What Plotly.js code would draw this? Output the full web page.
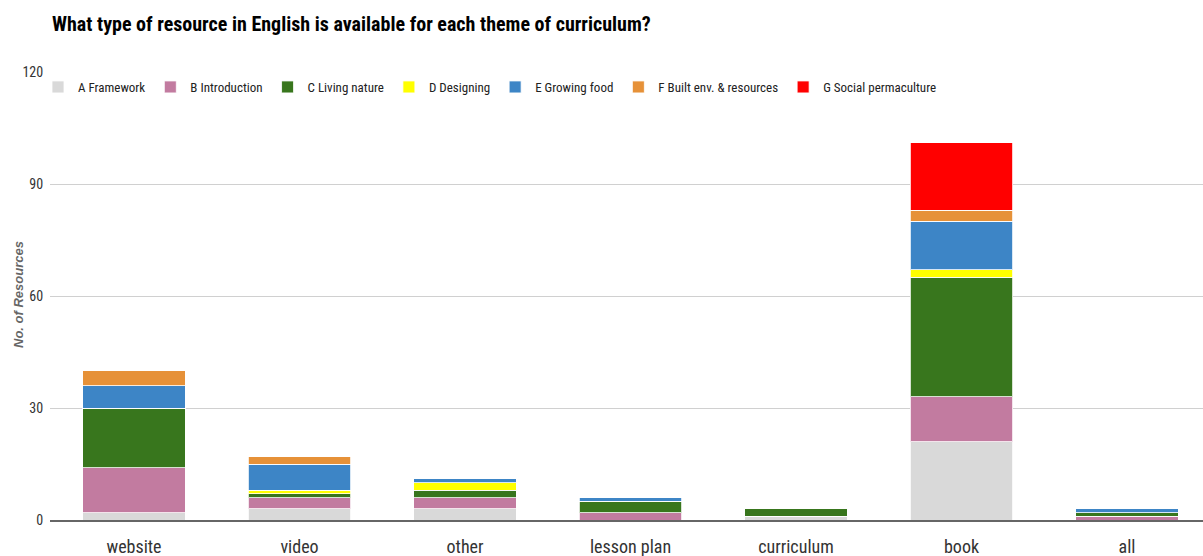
<!DOCTYPE html>
<html>
<head>
<meta charset="utf-8">
<script src="https://cdn.plot.ly/plotly-3.0.1.min.js"></script>
<style>html,body{margin:0;padding:0;background:#fff;}#chart{width:1203px;height:556px;}</style>
</head>
<body>
<div id="chart"></div>
<script>
const categories = ["website", "video", "other", "lesson plan", "curriculum", "book", "all"];
const seriesNames = ["A Framework", "B Introduction", "C Living nature", "D Designing", "E Growing food", "F Built env. & resources", "G Social permaculture"];
const seriesColors = ["#d9d9d9", "#c27ba0", "#38761d", "#ffff00", "#3d85c6", "#e69138", "#ff0000"];
const aFramework   = [2, 3, 3, 0, 1, 21, 0];
const bIntro       = [12, 3, 3, 2, 0, 12, 1];
const cLiving      = [16, 1, 2, 3, 2, 32, 1];
const dDesigning   = [0, 1, 2, 0, 0, 2, 0];
const eGrowing     = [6, 7, 1, 1, 0, 13, 1];
const fBuilt       = [4, 2, 0, 0, 0, 3, 0];
const gSocial      = [0, 0, 0, 0, 0, 18, 0];
const yTicks = [0, 30, 60, 90, 120];

const seriesValues = [aFramework, bIntro, cLiving, dDesigning, eGrowing, fBuilt, gSocial];
const FONT = "'Liberation Sans Narrow', 'Arial Narrow', 'Roboto Condensed', Arial, sans-serif";

const traces = seriesValues.map((vals, i) => ({
  type: "bar",
  name: seriesNames[i],
  x: categories,
  y: vals,
  marker: {color: seriesColors[i], line: {color: "rgba(255,255,255,0.8)", width: 1}},
  hoverinfo: "x+y+name"
}));

const L = 50;
const PW = 1203 - L;
const layout = {
  width: 1203, height: 556,
  barmode: "stack",
  bargap: 0.38,
  paper_bgcolor: "#fff", plot_bgcolor: "#fff",
  margin: {l: L, r: 0, t: 72, b: 36, autoexpand: false},
  font: {family: FONT, color: "#222"},
  title: {
    text: "<b>What type of resource in English is available for each theme of curriculum?</b>",
    font: {family: FONT, size: 20, color: "#000"},
    xref: "container", yref: "container",
    x: 52/1203, xanchor: "left",
    y: 1 - 24/556, yanchor: "middle"
  },
  showlegend: true,
  legend: {
    orientation: "h",
    xref: "container", yref: "paper",
    x: 38/1203, xanchor: "left",
    y: 1 - 15/448, yanchor: "middle",
    font: {family: FONT, size: 13, color: "#222"},
    traceorder: "normal",
    bgcolor: "rgba(0,0,0,0)"
  },
  xaxis: {
    type: "category",
    range: [-(134 - L) / 165.5, -(134 - L) / 165.5 + PW / 165.5],
    showgrid: false,
    showline: true, linecolor: "#666", linewidth: 2,
    ticks: "outside", ticklen: 9, tickcolor: "rgba(0,0,0,0)",
    tickfont: {family: FONT, size: 18, color: "#333"},
    fixedrange: true
  },
  yaxis: {
    range: [0, 120],
    tickvals: yTicks,
    ticktext: yTicks.map(String),
    showgrid: true, gridcolor: "#d0d0d0", gridwidth: 1,
    zeroline: false,
    showline: false,
    ticks: "outside", ticklen: 3, tickcolor: "rgba(0,0,0,0)",
    tickfont: {family: FONT, size: 14, color: "#333"},
    fixedrange: true
  },
  annotations: [{
    text: "<b><i>No. of Resources</i></b>",
    xref: "paper", yref: "paper",
    x: (18 - L) / PW, y: (520 - 295) / 448,
    xanchor: "center", yanchor: "middle",
    textangle: -90, showarrow: false,
    font: {family: "Arial, 'Liberation Sans', sans-serif", size: 13, color: "#666"}
  }]
};

Plotly.newPlot("chart", traces, layout, {displayModeBar: false});
</script>
</body>
</html>
